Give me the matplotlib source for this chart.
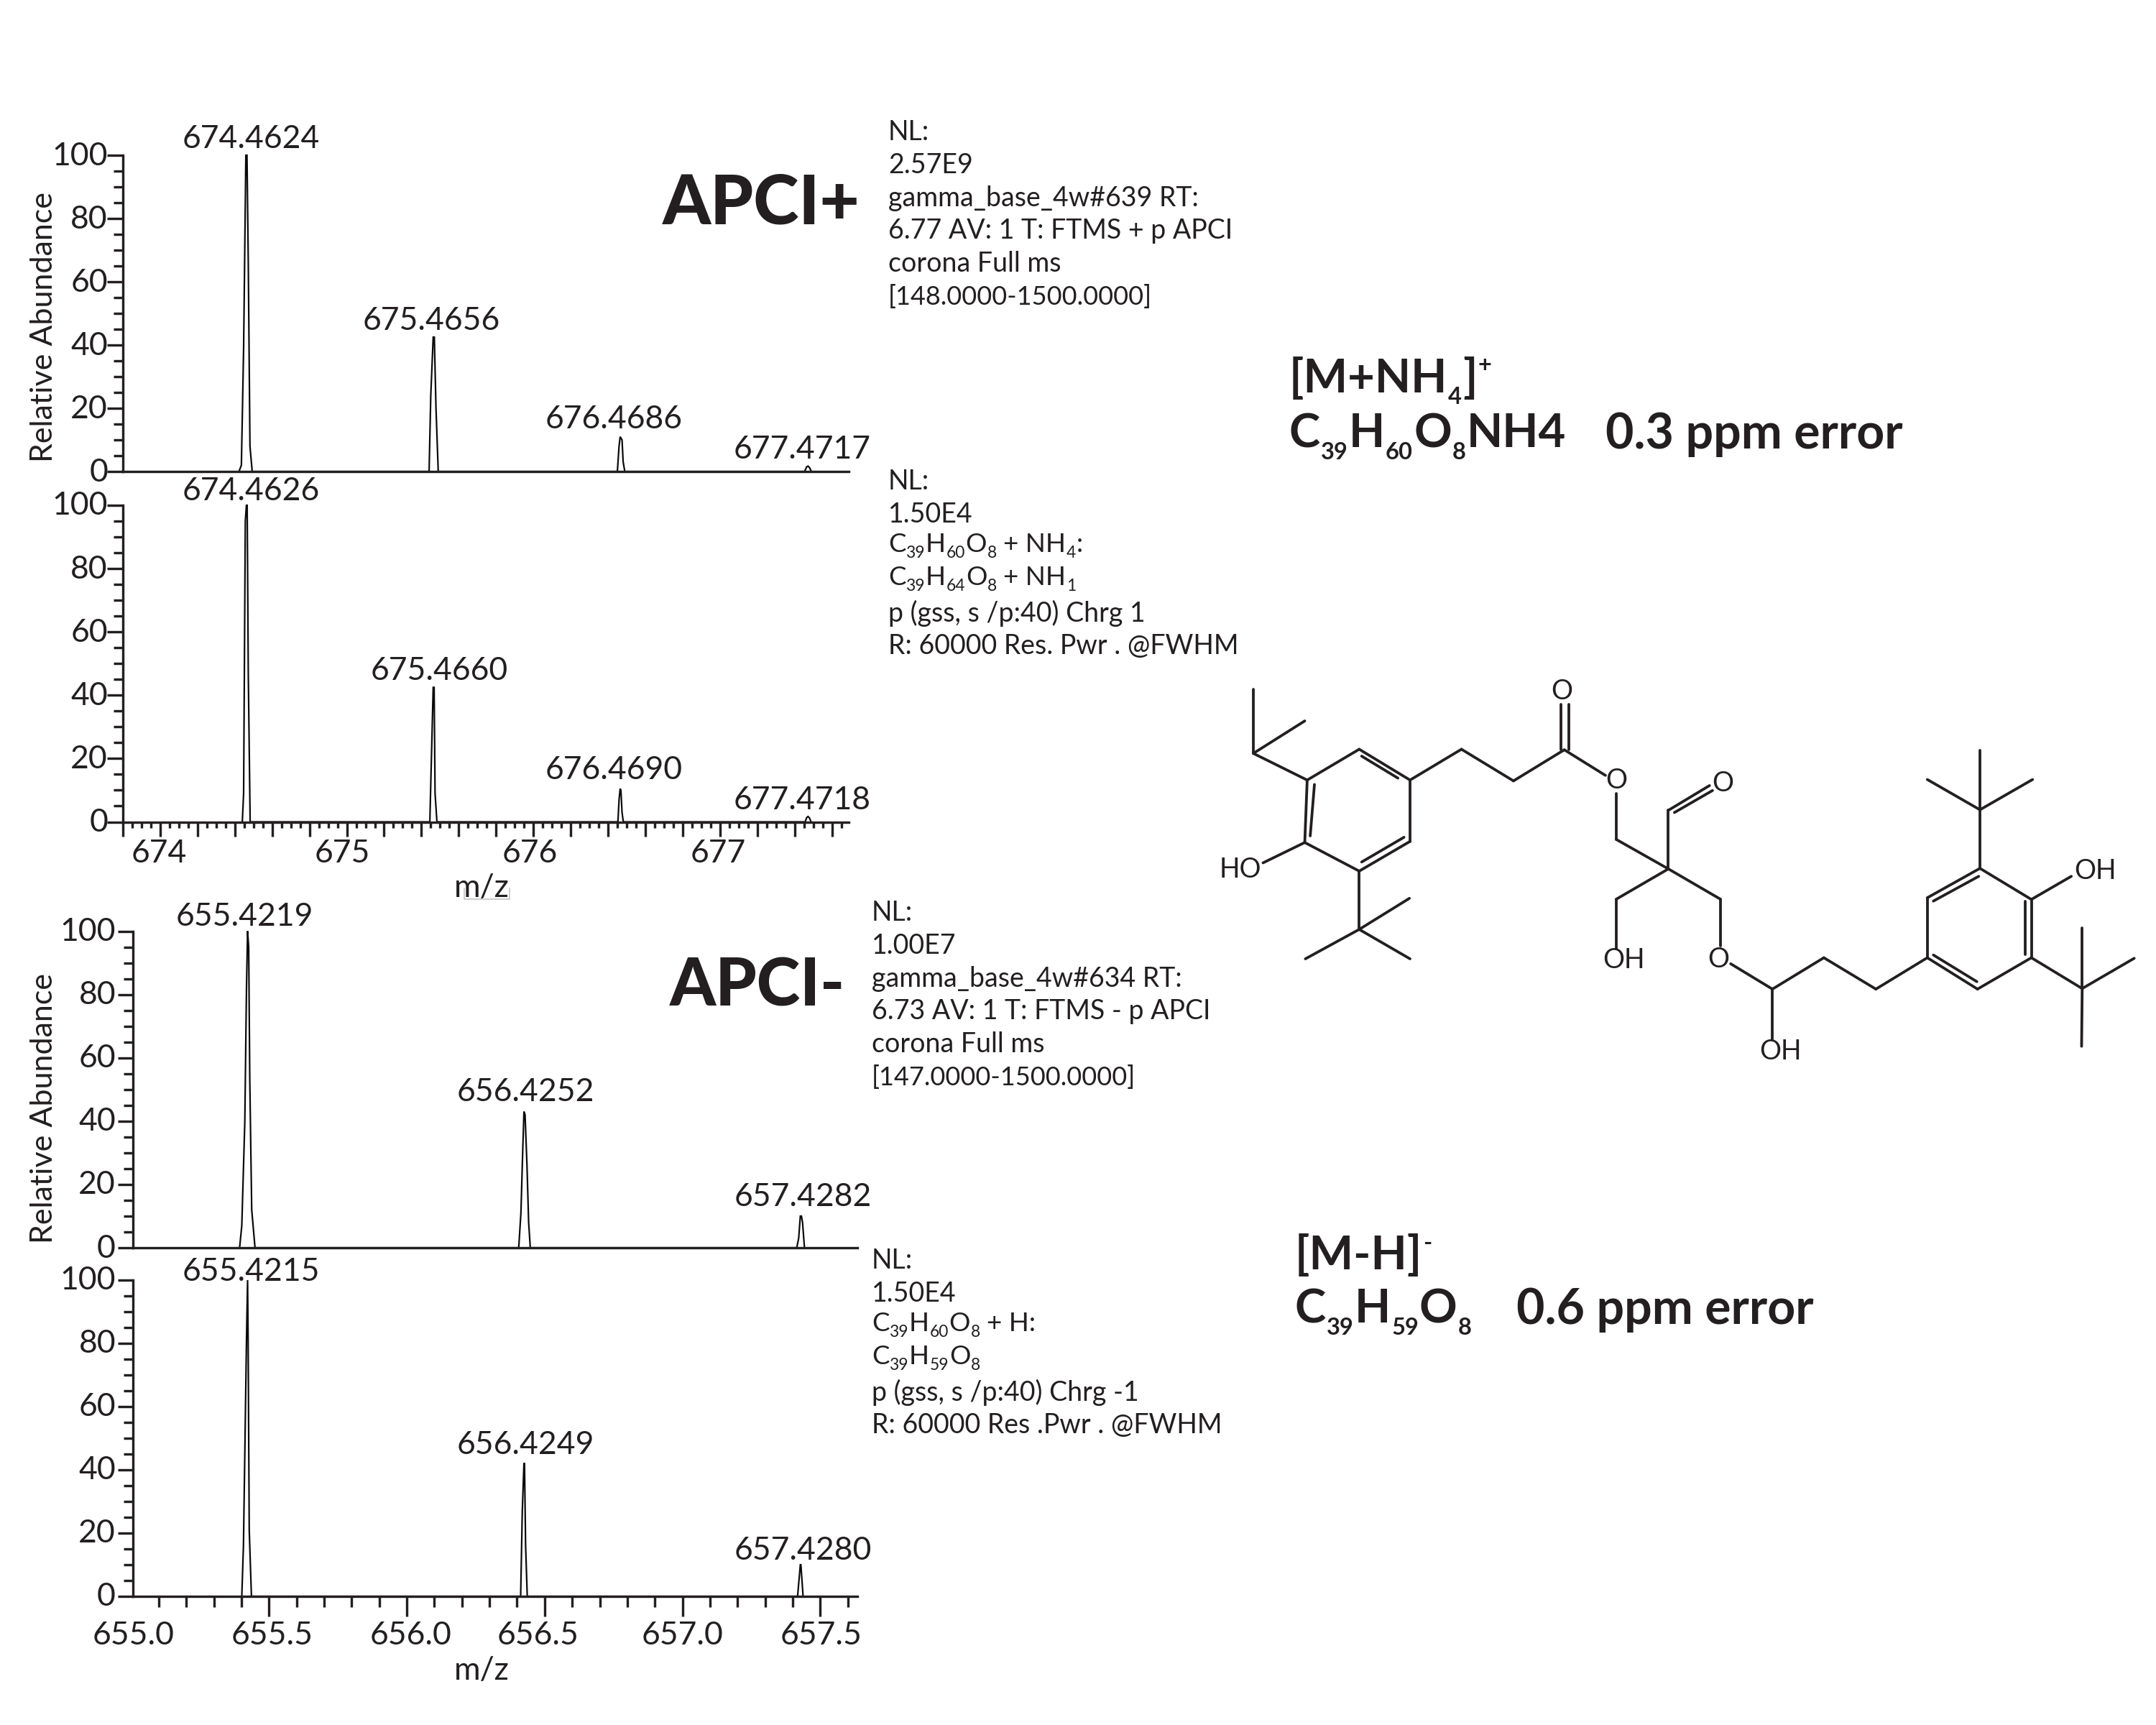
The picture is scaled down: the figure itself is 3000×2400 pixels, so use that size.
import matplotlib
matplotlib.use("Agg")
import matplotlib.pyplot as plt
from matplotlib.ticker import MultipleLocator, FixedLocator
from matplotlib.transforms import ScaledTranslation
from matplotlib.lines import Line2D

W, H = 3000, 2400
INK = "#231f20"
plt.rcParams["font.family"] = ["Lato", "DejaVu Sans"]
plt.rcParams["text.color"] = INK

# ---------------- data ----------------
p1_mz = [674.422, 674.435, 674.447, 674.459, 674.465, 674.472, 674.481, 674.493,
         675.441, 675.450, 675.463, 675.469, 675.478, 675.490,
         676.450, 676.459, 676.465, 676.475, 676.481, 676.490,
         677.453, 677.465, 677.472, 677.480, 677.490]
p1_int = [0, 2, 39, 100, 100, 66, 8, 0,
          0, 24, 42.5, 42.5, 20, 0,
          0, 8, 11, 10, 3, 0,
          0, 1.5, 1.7, 1.2, 0]
p2_mz = [674.440, 674.447, 674.456, 674.462, 674.466, 674.472, 674.482,
         675.445, 675.450, 675.463, 675.468, 675.473, 675.483,
         676.453, 676.459, 676.465, 676.469, 676.475, 676.482,
         677.456, 677.465, 677.472, 677.480, 677.488]
p2_int = [0, 9, 95, 100, 100, 47, 0,
          0, 12, 42.5, 42.5, 9, 0,
          0, 7, 10.5, 10, 3, 0,
          0, 1.4, 1.7, 1.2, 0]
p3_mz = [655.393, 655.401, 655.412, 655.418, 655.422, 655.426, 655.430, 655.437, 655.449,
         656.406, 656.414, 656.421, 656.425, 656.429, 656.436, 656.442, 656.448,
         657.415, 657.422, 657.428, 657.432, 657.436, 657.443]
p3_int = [0, 7, 40, 82, 100, 95, 53, 12, 0,
          0, 11, 32, 43, 42, 26, 8, 0,
          0, 3, 10, 10, 8, 0]
p4_mz = [655.401, 655.407, 655.418, 655.422, 655.424, 655.428, 655.436,
         656.413, 656.419, 656.425, 656.427, 656.431, 656.437,
         657.418, 657.422, 657.428, 657.430, 657.434, 657.438]
p4_int = [0, 16, 81, 100, 81, 21, 0,
          0, 27, 42, 42, 16, 0,
          0, 4, 10, 10, 5, 0]

p1_labels = ["674.4624", "675.4656", "676.4686", "677.4717"]
p2_labels = ["674.4626", "675.4660", "676.4690", "677.4718"]
p3_labels = ["655.4219", "656.4252", "657.4282"]
p4_labels = ["655.4215", "656.4249", "657.4280"]
y_ticks = [0, 20, 40, 60, 80, 100]
x_ticks_a = [674, 675, 676, 677]
x_ticks_b = [655.0, 655.5, 656.0, 656.5, 657.0, 657.5]

# text pieces: plain runs and _sub / ^sup runs
block1 = ["NL:", "2.57E9", "gamma_base_4w#639 RT:", "6.77 AV: 1 T: FTMS + p APCI",
          "corona Full ms", "[148.0000-1500.0000]"]
block2 = ["NL:", "1.50E4", ["C", "_39", "H", "_60", "O", "_8", " + NH", "_4", ":"],
          ["C", "_39", "H", "_64", "O", "_8", " + NH", "_1"], "p (gss, s /p:40) Chrg 1",
          "R: 60000 Res. Pwr . @FWHM"]
block3 = ["NL:", "1.00E7", "gamma_base_4w#634 RT:", "6.73 AV: 1 T: FTMS - p APCI",
          "corona Full ms", "[147.0000-1500.0000]"]
block4 = ["NL:", "1.50E4", ["C", "_39", "H", "_60", "O", "_8", " + H:"],
          ["C", "_39", "H", "_59", "O", "_8"], "p (gss, s /p:40) Chrg -1",
          "R: 60000 Res .Pwr . @FWHM"]

# molecule skeleton (in structure-drawing units)
bonds = [
    ((165,432),(251,320)),((251,320),(335,432)),((255,345),(315,425)),((335,432),(335,655)),
    ((335,655),(251,763)),((325,640),(255,730)),((251,763),(161,659)),((161,659),(165,432)),
    ((170,635),(177,448)),((165,432),(76,335)),((76,335),(76,103)),((76,335),(161,217)),
    ((161,659),(92,733)),((251,763),(251,975)),((251,975),(334,862)),((251,975),(162,1082)),
    ((251,975),(335,1082)),((335,432),(420,320)),((420,320),(506,435)),((506,435),(590,322)),
    ((584,322),(584,158)),((597,322),(597,158)),((590,322),(658,415)),((676,482),(676,648)),
    ((676,648),(762,755)),((762,755),(762,542)),((762,542),(830,452)),((772,550),(835,470)),
    ((762,755),(676,865)),((676,865),(676,1045)),((762,755),(848,865)),((848,865),(848,1035)),
    ((865,1100),(934,1192)),((934,1192),(1019,1078)),((1019,1078),(1105,1192)),
    ((1105,1192),(1190,1078)),((934,1192),(934,1378)),((1190,1078),(1190,860)),
    ((1190,860),(1277,753)),((1277,753),(1362,866)),((1362,866),(1362,1078)),
    ((1362,1078),(1273,1192)),((1273,1192),(1190,1078)),((1200,872),(1275,782)),
    ((1352,872),(1352,1065)),((1200,1068),(1272,1165)),((1362,866),(1428,782)),
    ((1277,753),(1277,540)),((1277,540),(1277,323)),((1277,540),(1190,430)),
    ((1277,540),(1364,430)),((1362,1078),(1446,1190)),((1446,1190),(1446,970)),
    ((1446,1190),(1532,1080)),((1446,1190),(1445,1400)),
]
atoms = [("HO",55,757),("O",586,110),("O",676,435),("O",852,443),("OH",688,1088),
         ("O",845,1085),("OH",947,1418),("OH",1468,762)]

# ---------------- layout helpers ----------------
fig = plt.figure(figsize=(W/100, H/100), dpi=100, facecolor="white")
rend = fig.canvas.get_renderer()
pt = lambda px: px*0.72

def txt(x, y, s, size, ha="center", va="center", dy=4, **kw):
    return fig.text(x/W, 1-(y+dy)/H, s, fontsize=size, ha=ha, va=va, **kw)

def pieces(x, yc, runs, size, ratio=0.62, drop=0.22, rise=0.33, **kw):
    """Set a formula run by run, so subscripts can be small and low."""
    em = size*100/72
    base = yc + 0.36*em
    space = 0.23*em
    for r in runs:
        if r[0] == "_":
            s, sz, yy = r[1:], size*ratio, base + drop*em
        elif r[0] == "^":
            s, sz, yy = r[1:], size*ratio, base - rise*em
        else:
            s, sz, yy = r, size, base
        if s.startswith(" "):
            x += space
            s = s.lstrip()
        t = fig.text(x/W, 1-yy/H, s, fontsize=sz, ha="left", va="baseline", **kw)
        x += t.get_window_extent(rend).width + 0.015*em
    return x

def panel(left, right, top, bottom, xlim, mz, inten, tl, ldx):
    ax = fig.add_axes([left/W, 1-bottom/H, (right-left)/W, (bottom-top)/H])
    ax.plot(mz, inten, color="#0a0a0a", lw=pt(2.2), solid_joinstyle="miter", clip_on=False)
    ax.set_xlim(*xlim)
    ax.set_ylim(0, 100)
    for s in ("top", "right"):
        ax.spines[s].set_visible(False)
    for s in ("left", "bottom"):
        ax.spines[s].set_linewidth(pt(3.4))
        ax.spines[s].set_color(INK)
    ax.set_yticks(y_ticks)
    ax.yaxis.set_minor_locator(MultipleLocator(5))
    ax.tick_params(axis="y", which="major", length=pt(tl), width=pt(3.4), color=INK,
                   labelsize=32, labelcolor=INK, pad=pt(3))
    ax.tick_params(axis="y", which="minor", length=pt(tl*0.6), width=pt(3.4), color=INK)
    off = ScaledTranslation(ldx/100, 3/100, fig.dpi_scale_trans)
    for lab in ax.get_yticklabels():
        lab.set_transform(lab.get_transform() + off)
    ax.patch.set_alpha(0)
    return ax

# ---------------- spectra ----------------
ax1 = panel(171, 1181, 216, 656, (673.8, 677.69), p1_mz, p1_int, 22, 4)
ax1.set_xticks([])
ax2 = panel(171, 1181, 703, 1143.5, (673.8, 677.69), p2_mz, p2_int, 22, 4)
ax2.xaxis.set_major_locator(MultipleLocator(0.2))
ax2.xaxis.set_minor_locator(MultipleLocator(0.05))
ax2.set_xticklabels([])
ax2.tick_params(axis="x", which="major", length=pt(20), width=pt(3.4), color=INK)
ax2.tick_params(axis="x", which="minor", length=pt(8), width=pt(3.4), color=INK)

ax3 = panel(185, 1193, 1295.5, 1736, (655.006, 657.635), p3_mz, p3_int, 21, 0)
ax3.set_xticks([])
ax4 = panel(185, 1193, 1781, 2221, (655.006, 657.635), p4_mz, p4_int, 21, 0)
ax4.xaxis.set_major_locator(FixedLocator(x_ticks_b))
ax4.xaxis.set_minor_locator(MultipleLocator(0.1))
ax4.set_xticklabels([])
ax4.tick_params(axis="x", which="major", length=pt(28), width=pt(3.4), color=INK)
ax4.tick_params(axis="x", which="minor", length=pt(15), width=pt(3.4), color=INK)

# x tick labels
for x, s in zip([221.6, 476, 737, 999], x_ticks_a):
    txt(x, 1184, str(s), 32)
for x, v in zip([186, 379, 572, 749, 950, 1143], x_ticks_b):
    txt(x, 2271, f"{v:.1f}", 32)
txt(670, 1231.5, "m/z", 32)
txt(670, 2320.5, "m/z", 32)
txt(61, 455, "Relative Abundance", 31, rotation=90, dy=0)
txt(61, 1542, "Relative Abundance", 31, rotation=90, dy=0)

# faint scan artefact under the first m/z
fig.add_artist(Line2D([646/W, 646/W, 709/W, 709/W],
                      [1-1236/H, 1-1251/H, 1-1251/H, 1-1236/H], color="#bdbdbd", lw=pt(1.5)))

# peak labels
lab_pos = [
    (p1_labels, [(349.6,189.6),(600.7,442.6),(854,579),(1116,621.5)]),
    (p2_labels, [(349.6,680),(611.5,930),(854,1068),(1116,1110)]),
    (p3_labels, [(340.8,1272),(731,1515),(1117,1662)]),
    (p4_labels, [(349.6,1766),(731,2006.5),(1117,2154)]),
]
for labs, pos in lab_pos:
    for s, (x, y) in zip(labs, pos):
        txt(x, y, s, 32)

# side text blocks
line_h = 45.8
for blk, x, y0 in [(block1, 1236, 180), (block2, 1236, 666), (block3, 1213, 1266), (block4, 1213, 1750)]:
    for i, s in enumerate(blk):
        if isinstance(s, list):
            pieces(x, y0 + i*line_h - 3, s, 26.5)
        else:
            size = 26 if s.startswith("[") else 27
            txt(x, y0 + i*line_h, s, size, ha="left", va="center")

# headings
txt(922, 277, "APCI+", 69, ha="left", fontweight="black", dy=7)
txt(932, 1366, "APCI-", 66, ha="left", fontweight="black", dy=7)
pieces(1794, 522, ["[M+NH", "_4", "]", "^+"], 47, ratio=0.5, drop=0.26, rise=0.42, fontweight="bold")
pieces(1794, 599, ["C", "_39", "H", "_60", "O", "_8", "NH4"], 47, ratio=0.5, drop=0.26, fontweight="bold")
txt(2234, 600, "0.3 ppm error", 49, ha="left", fontweight="bold")
pieces(1802, 1743, ["[M-H]", "^-"], 47, ratio=0.5, rise=0.42, fontweight="bold")
pieces(1802, 1817, ["C", "_39", "H", "_59", "O", "_8"], 47, ratio=0.5, drop=0.26, fontweight="bold")
txt(2110, 1818, "0.6 ppm error", 49, ha="left", fontweight="bold")

# structure
mol = fig.add_axes([1680/W, 1-1520/H, 1320/W, 600/H])
mol.set_xlim(0, 1568)
mol.set_ylim(1568, 0)
mol.axis("off")
for (a, b) in bonds:
    mol.plot([a[0], b[0]], [a[1], b[1]], color=INK, lw=pt(3.8), solid_capstyle="round")
for s, x, y in atoms:
    mol.text(x, y, s, fontsize=27, ha="center", va="center", color=INK)

fig.savefig("out.png", dpi=100, facecolor="white")
